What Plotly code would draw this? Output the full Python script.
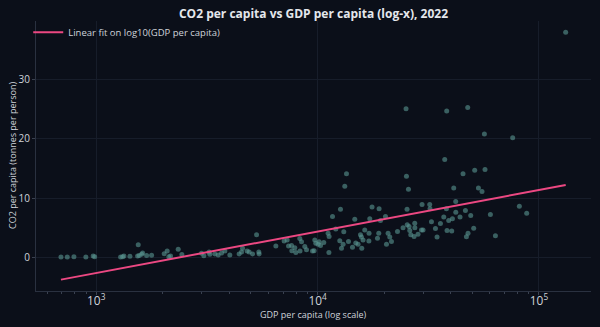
import numpy as np
import plotly.graph_objects as go

gdp_per_capita = [
    693, 740, 793, 898, 969, 984, 1289, 1316, 1334, 1420, 1538, 1564, 1603, 1620,
    1689, 1779, 1548, 2028, 2092, 2129, 2167, 2346, 2437,
    2991, 3063, 3236, 3260, 3435, 3555, 3683, 3811, 4014, 4422, 4534, 4581, 4805,
    4906, 5083, 5299, 5427, 5444, 6478, 7062, 7286, 7392, 7626, 7650, 7890, 7973,
    8311, 8330, 8460, 8754, 8910, 9484, 9643, 9714, 9815, 10053, 10158, 10306,
    10666, 11154, 11270, 11250,
    11677, 12083, 12595, 12688, 12820, 13035, 13131, 13268, 13505, 13788, 14374,
    14720, 14874, 15234, 15617, 15780, 15830, 16044, 16331, 17078, 17050, 17205,
    17620, 18640, 18895, 18955, 19233, 20260, 20470, 20815, 21187, 21562, 22950,
    24322, 25090, 25200, 25357, 25400, 25727, 25888, 26080, 26350, 27270, 27470,
    27500, 28420, 29450, 29950, 29640, 32100, 32200, 32680, 34070, 34640, 35880,
    37140, 37520, 38300, 38180, 38430, 39110, 40350, 40640, 41200, 42060, 42100,
    43980, 45380, 46530, 47010, 47650, 47800, 49170, 50720, 51250, 53260, 55290,
    56680, 57040, 60330, 63570, 76070, 81540, 88000, 132000,
]
co2_per_capita = [
    0.05, 0.05, 0.1, 0.05, 0.2, 0.1, 0.05, 0.1, 0.2, 0.15, 0.2, 0.3, 0.5, 0.7,
    0.3, 0.35, 2.1, 0.6, 1.07, 0.1, 0.2, 1.35, 0.45,
    0.68, 0.27, 0.9, 0.5, 0.55, 0.4, 0.7, 1.07, 0.4, 0.55, 0.9, 1.5, 1.07,
    0.9, 0.55, 3.8, 0.9, 0.55, 1.9, 2.75, 2.9, 1.9, 2.0, 1.1, 1.6, 0.8,
    3.15, 1.07, 2.6, 1.8, 1.25, 1.07, 1.1, 2.9, 2.35, 2.2, 2.6, 2.0,
    2.5, 4.05, 3.5, 0.8,
    6.9, 4.75, 2.8, 8.1, 1.5, 2.2, 4.3, 12.0, 14.1, 2.65, 1.7,
    6.4, 2.4, 2.2, 3.8, 3.4, 1.5, 2.9, 4.6, 4.05, 2.75, 6.5,
    8.5, 3.2, 4.05, 8.2, 6.2, 6.9, 2.2, 4.05, 3.4, 2.65, 4.35,
    5.0, 25.1, 13.7, 8.1, 5.5, 11.5, 5.2, 4.5, 3.8, 3.5, 5.75,
    5.0, 3.9, 4.6, 4.6, 8.9, 8.9, 8.2, 6.0, 4.85, 3.4, 5.7,
    6.8, 16.5, 24.7, 8.2, 4.5, 6.2, 4.45, 6.5, 11.7, 9.4, 7.6,
    6.8, 14.1, 7.9, 3.45, 25.3, 4.05, 7.05, 4.9, 14.7, 11.7, 11.1,
    20.8, 14.8, 7.2, 3.65, 20.2, 8.6, 7.45, 38.0,
]

x = np.array(gdp_per_capita, dtype=float)
y = np.array(co2_per_capita, dtype=float)
lx = np.log10(x)
slope, intercept = np.polyfit(lx, y, 1)
fit_lx = np.array([lx.min(), lx.max()])
fit_x = 10 ** fit_lx
fit_y = intercept + slope * fit_lx

BG = "#0b0f19"
GRID = "#171d2a"
TXT = "#cfd3da"
FONT = "Open Sans"

fig = go.Figure()
fig.add_trace(go.Scatter(
    x=x, y=y, mode="markers", showlegend=False,
    marker=dict(size=5, color="rgba(90,150,145,0.6)", line=dict(width=0)),
))
fig.add_trace(go.Scatter(
    x=fit_x, y=fit_y, mode="lines", name="Linear fit on log10(GDP per capita)",
    line=dict(color="#ec4882", width=2),
))

fig.update_layout(
    width=600, height=327,
    paper_bgcolor=BG, plot_bgcolor=BG,
    margin=dict(l=36, r=9, t=21, b=36, autoexpand=False),
    font=dict(family=FONT, size=10, color=TXT),
    title=dict(text="<b>CO2 per capita vs GDP per capita (log-x), 2022</b>",
               xref="paper", x=0.5, xanchor="center",
               yref="container", y=1 - 13.5 / 327, yanchor="middle",
               font=dict(family=FONT, size=12, color="#e4e7ec")),
    legend=dict(x=-0.014, y=1.012, xanchor="left", yanchor="top",
                bgcolor="rgba(0,0,0,0)", font=dict(family=FONT, size=9.5, color=TXT)),
    annotations=[
        dict(text="GDP per capita (log scale)", xref="paper", yref="paper",
             x=0.5, y=0, yshift=-23, xanchor="center", yanchor="middle",
             showarrow=False, font=dict(family=FONT, size=9, color=TXT)),
        dict(text="CO2 per capita (tonnes per person)", xref="paper", yref="paper",
             x=0, y=0.5, xshift=-24, xanchor="center", yanchor="middle",
             textangle=-90, showarrow=False,
             font=dict(family=FONT, size=9, color=TXT)),
    ],
)
fig.update_xaxes(
    type="log", range=[2.728, 5.235], automargin=False,
    showgrid=True, gridcolor=GRID, gridwidth=1,
    exponentformat="power", dtick=1,
    ticks="outside", ticklen=3, tickcolor="#3a4150",
    ticklabelstandoff=-4,
    showline=True, linecolor="#2a3140", linewidth=1,
    minor=dict(ticks="outside", ticklen=2, tickcolor="#3a4150", showgrid=False),
    zeroline=False, tickfont=dict(family=FONT, size=9.5),
)
fig.update_yaxes(
    range=[-5.7, 39.9], automargin=False,
    showgrid=True, gridcolor=GRID, gridwidth=1,
    tickvals=[0, 10, 20, 30],
    ticks="outside", ticklen=3, tickcolor="#3a4150",
    showline=True, linecolor="#2a3140", linewidth=1,
    zeroline=False, tickfont=dict(family=FONT, size=10),
)

fig.write_html("out.html")
